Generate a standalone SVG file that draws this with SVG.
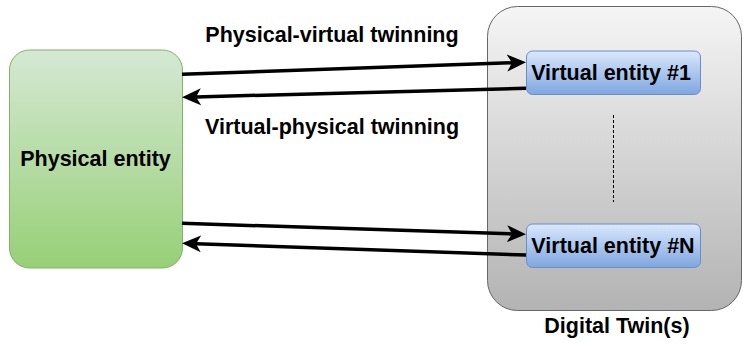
<svg xmlns="http://www.w3.org/2000/svg" width="743" height="344" viewBox="0 0 743 344">
<style>
text{font-family:"Liberation Sans",Arial,Helvetica,sans-serif;font-weight:bold;font-size:21.5px;fill:#000;text-anchor:middle}
.arrow{fill:none;stroke:#000;stroke-width:3.5}
</style>
<defs>
<linearGradient id="gGreen" x1="0" y1="0" x2="0" y2="1"><stop offset="0" stop-color="#d5e8d4"/><stop offset="1" stop-color="#97d077"/></linearGradient>
<linearGradient id="gBlue" x1="0" y1="0" x2="0" y2="1"><stop offset="0" stop-color="#dae8fc"/><stop offset="1" stop-color="#7ea6e0"/></linearGradient>
<linearGradient id="gGray" x1="0" y1="0" x2="0" y2="1"><stop offset="0" stop-color="#f5f5f5"/><stop offset="1" stop-color="#b3b3b3"/></linearGradient>
<marker id="ah" markerUnits="userSpaceOnUse" markerWidth="19" markerHeight="18" viewBox="0 0 19 18" refX="5" refY="9" orient="auto"><path d="M0,0.5 L19,9 L0,17.5 L5,9 Z" fill="#000"/></marker>
</defs>
<g id="digital-twin">
<rect x="487.5" y="6.5" width="254" height="304" rx="30" fill="url(#gGray)" stroke="#666666" stroke-width="1"/>
<text x="617" y="333">Digital Twin(s)</text>
</g>
<g id="physical-entity">
<rect x="9.5" y="50" width="173" height="218" rx="20" fill="url(#gGreen)" stroke="#82b366" stroke-width="1"/>
<text x="95.5" y="166">Physical entity</text>
</g>
<g id="virtual-entity-1">
<rect x="526.5" y="51" width="174" height="43.5" rx="6" fill="url(#gBlue)" stroke="#6c8ebf" stroke-width="1"/>
<text x="611" y="80">Virtual entity #1</text>
</g>
<g id="virtual-entity-n">
<rect x="526.5" y="224" width="174" height="43.5" rx="6" fill="url(#gBlue)" stroke="#6c8ebf" stroke-width="1"/>
<text x="613" y="253">Virtual entity #N</text>
</g>
<g id="connectors">
<line class="arrow" x1="182" y1="74.3" x2="512" y2="62.8" marker-end="url(#ah)"/>
<line class="arrow" x1="526" y1="88.3" x2="196" y2="96.9" marker-end="url(#ah)"/>
<line class="arrow" x1="182" y1="223.3" x2="512" y2="233.9" marker-end="url(#ah)"/>
<line class="arrow" x1="526" y1="255" x2="196" y2="243.7" marker-end="url(#ah)"/>
<line x1="613.5" y1="115" x2="613.5" y2="202" stroke="#000" stroke-width="1" stroke-dasharray="3 2"/>
<text x="332" y="42">Physical-virtual twinning</text>
<text x="332" y="134">Virtual-physical twinning</text>
</g>
</svg>
